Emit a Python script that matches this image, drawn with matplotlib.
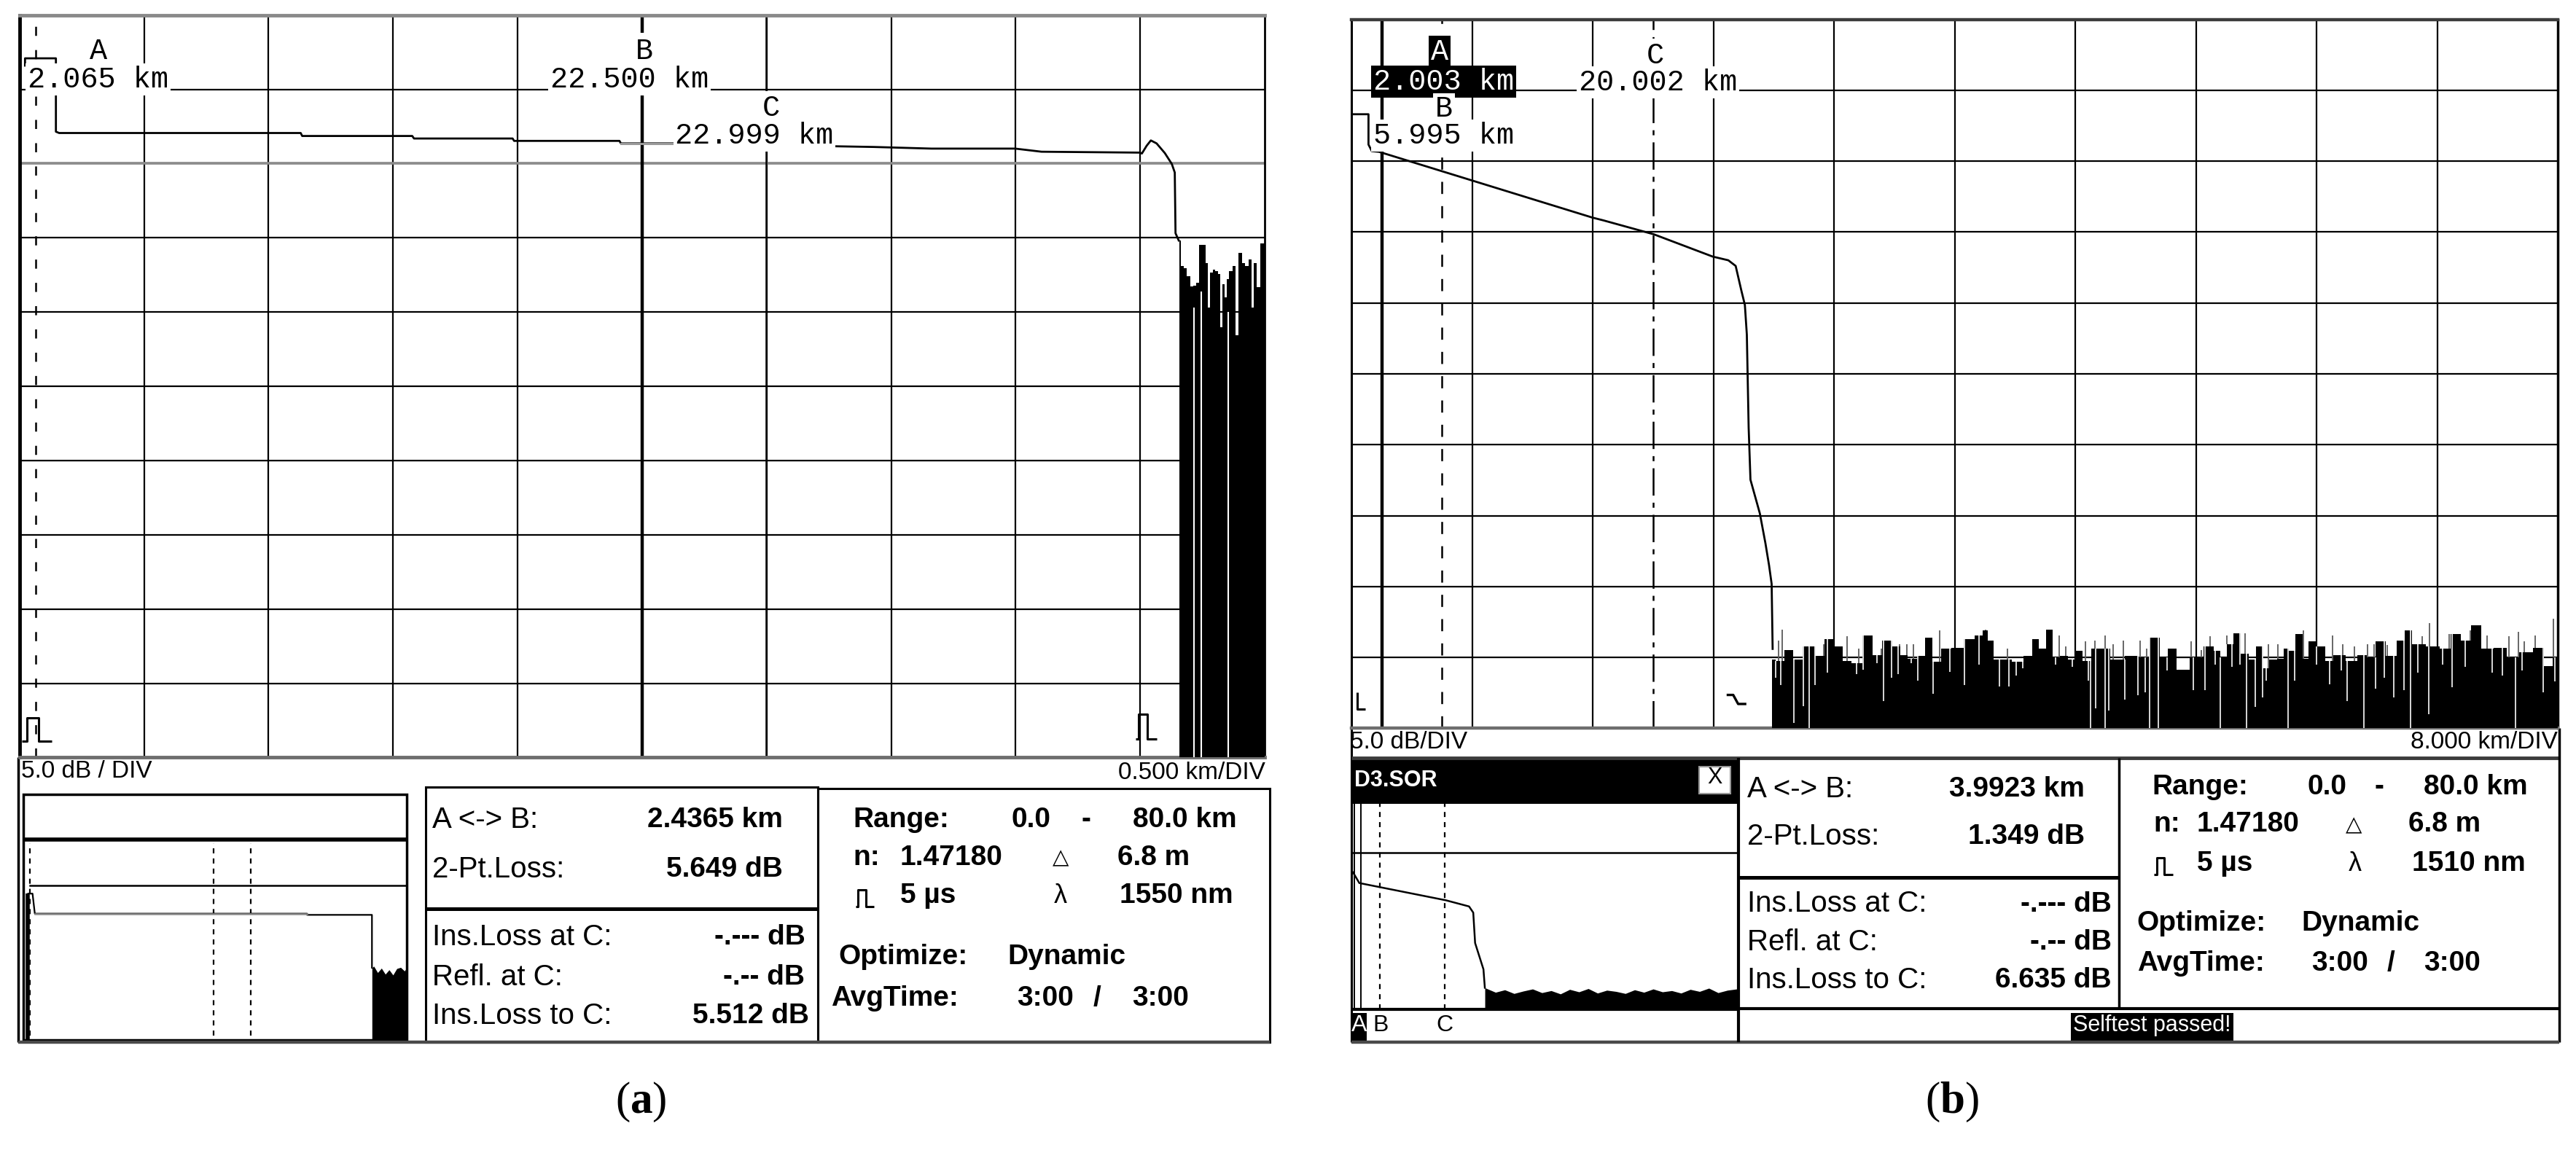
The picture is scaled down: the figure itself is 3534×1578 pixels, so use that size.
import matplotlib
matplotlib.use('Agg')
import matplotlib.pyplot as plt
import numpy as np
from matplotlib.patches import Rectangle

plt.rcParams['font.family'] = ['Liberation Sans', 'DejaVu Sans']
plt.rcParams['lines.scale_dashes'] = False
plt.rcParams['mathtext.fontset'] = 'custom'
plt.rcParams['mathtext.rm'] = 'Liberation Serif'
plt.rcParams['mathtext.bf'] = 'Liberation Serif:bold'

MONO = ['Liberation Mono', 'DejaVu Sans Mono']
SERIF = ['Liberation Serif', 'DejaVu Serif']

# ---------------- (a) 0.500 km/DIV, 5.0 dB/DIV ----------------
trace_a_km = [20.022, 20.022, 20.146, 20.146, 20.159, 20.190, 21.129, 21.135, 21.577, 21.584,
              21.980, 21.986, 22.409, 22.415, 22.633, 23.431, 23.662, 23.998, 24.104, 24.498,
              24.507, 24.526, 24.543, 24.566, 24.599, 24.627, 24.639, 24.642, 24.655]
trace_a_db = [46.60, 47.09, 47.09, 42.15, 42.06, 42.06, 42.06, 41.86, 41.86, 41.69,
              41.69, 41.53, 41.53, 41.36, 41.36, 41.12, 41.01, 41.01, 40.80, 40.74,
              40.68, 41.20, 41.56, 41.36, 40.71, 39.98, 39.40, 35.31, 34.82]
grey_a_km = [22.415, 22.633]
grey_a_db = [41.36, 41.36]
noise_a_km = [24.659, 24.669, 24.683, 24.693, 24.708, 24.718, 24.731, 24.744, 24.757, 24.767,
              24.777, 24.786, 24.797, 24.807, 24.817, 24.825, 24.834, 24.843, 24.853, 24.863,
              24.878, 24.888, 24.902, 24.915, 24.929, 24.942, 24.952, 24.962, 24.975, 24.990, 25.0]
noise_a_db = [34.80, 33.10, 32.98, 32.43, 31.73, 31.77, 31.99, 34.53, 34.53, 33.31,
              30.33, 32.65, 32.87, 32.76, 32.54, 28.99, 31.88, 30.99, 32.20, 32.76,
              33.09, 28.45, 33.98, 33.31, 33.09, 33.53, 30.33, 33.31, 31.66, 34.64, 34.64]
gap_a_km = [24.717, 24.746, 24.853]
gap_a_db = [0.0, 0.0, 0.0]
gap_a_top = [30.3, 31.4, 30.0]
cursor_a_km = [20.065, 22.5, 22.999]
cursor_a_text = ['2.065 km', '22.500 km', '22.999 km']

# overview window of (a)
mini_a_km = [0.30, 0.30, 0.60, 0.75, 18.5, 18.5, 22.73, 22.73]
mini_a_db = [0.0, 36.5, 36.5, 31.5, 31.5, 31.2, 31.2, 18.0]
mini_noise_a_km = [22.73, 22.85, 23.1, 23.35, 23.6, 23.85, 24.1, 24.35, 24.6, 24.85, 25.0]
mini_noise_a_db = [18.0, 18.4, 16.8, 17.9, 16.4, 17.5, 16.2, 17.8, 18.1, 17.2, 18.0]
mini_cursor_a_km = [0.45, 12.42, 14.85]
mini_level_a_db = 38.5

# ---------------- (b) 8.000 km/DIV, 5.0 dB/DIV ----------------
trace_b_km = [0.0, 1.111, 1.111, 1.329, 1.809, 15.963, 16.704, 20.038, 23.939, 24.974, 25.464,
              25.835, 26.074, 26.205, 26.325, 26.445, 27.066, 27.436, 27.676, 27.850, 27.916]
trace_b_db = [43.31, 43.31, 41.17, 40.71, 40.66, 36.02, 35.82, 34.84, 33.27, 33.01, 32.61,
              30.90, 29.86, 27.76, 21.20, 17.53, 15.16, 13.06, 11.51, 10.18, 5.60]
noise_b_km = [27.86, 28.38, 28.98, 29.58, 30.19, 30.53, 30.97, 31.74, 32.26, 32.87, 33.38, 34.33,
              34.76, 35.54, 36.15, 36.66, 37.10, 37.87, 38.22, 38.82, 39.34, 40.20, 40.98, 41.67,
              42.02, 42.36, 42.79, 43.40, 44.18, 44.95, 45.30, 45.82, 46.25, 46.68, 47.20, 47.80,
              48.23, 48.75, 49.36, 49.79, 50.82, 51.69, 52.55, 53.24, 53.93, 54.35, 55.04, 56.08,
              56.94, 57.37, 57.89, 58.23, 58.70, 59.18, 59.78, 60.21, 60.64, 61.07, 61.68, 61.97,
              62.37, 62.83, 63.31, 63.57, 64.35, 64.81, 65.38, 66.42, 66.94, 67.71, 68.14, 69.00,
              69.61, 70.04, 70.64, 71.85, 72.45, 73.31, 73.83, 74.60, 75.21, 76.24, 76.93, 77.88,
              78.83, 79.34, 79.95, 80.0]
noise_b_db = [4.84, 4.75, 5.52, 4.84, 5.78, 5.78, 5.09, 6.29, 5.78, 4.75, 4.58, 6.55,
              5.18, 6.21, 5.78, 5.18, 4.92, 5.09, 6.38, 4.67, 5.61, 5.69, 6.29, 6.55,
              6.89, 6.21, 4.84, 4.84, 4.67, 5.09, 6.29, 5.61, 6.98, 5.01, 5.09, 4.84,
              5.44, 4.75, 5.61, 5.61, 4.84, 5.09, 5.01, 6.38, 5.01, 5.61, 4.15, 5.01,
              5.78, 5.44, 5.01, 5.95, 6.72, 5.27, 4.84, 5.78, 4.24, 4.84, 4.92, 5.61,
              5.44, 6.64, 4.92, 6.12, 5.78, 4.75, 5.18, 4.75, 5.18, 5.01, 6.12, 5.09,
              6.21, 6.89, 5.95, 5.78, 5.61, 6.64, 6.21, 7.24, 5.61, 5.69, 5.01, 5.35,
              5.69, 4.41, 5.01, 5.01]
spike_b_km = [28.29, 28.55, 31.31, 32.87, 33.64, 35.11, 36.32, 36.80, 37.27, 38.99, 42.02, 43.48,
              46.94, 47.37, 48.66, 49.27, 49.96, 50.48, 51.17, 52.29, 52.72, 55.65, 56.33, 56.94,
              58.06, 59.26, 60.82, 61.42, 63.14, 65.04, 65.73, 66.50, 67.37, 67.80, 68.23, 68.66,
              70.99, 71.50, 72.80, 74.17, 75.29, 76.76, 77.36, 77.79, 78.48, 79.69]
spike_b_db = [6.21, 6.98, 5.95, 6.47, 5.61, 5.61, 5.95, 5.95, 5.95, 6.89, 6.98, 5.61,
              6.55, 5.78, 6.12, 6.21, 6.55, 5.95, 6.21, 6.21, 5.61, 6.12, 5.52, 6.47,
              6.55, 6.72, 5.95, 5.95, 6.89, 6.55, 5.95, 5.78, 5.95, 5.95, 6.12, 5.87,
              6.47, 7.41, 6.64, 6.89, 6.55, 6.47, 6.81, 6.12, 6.55, 7.75]
gap_b_km = [28.12, 28.46, 29.33, 29.93, 30.36, 30.71, 31.57, 33.47, 33.90, 34.85, 35.28, 35.80,
            36.23, 37.10, 37.53, 38.56, 39.69, 40.64, 41.59, 42.97, 43.57, 44.09, 44.52, 46.68,
            47.80, 48.84, 49.01, 49.36, 49.96, 50.22, 51.25, 52.12, 52.64, 52.90, 53.50, 54.10,
            55.82, 56.59, 57.28, 57.63, 58.40, 58.92, 59.35, 59.95, 60.39, 60.64, 62.11, 62.54,
            64.00, 64.87, 65.64, 66.04, 67.11, 67.88, 68.49, 69.09, 69.78, 70.21, 70.73, 71.42,
            72.36, 72.97, 73.83, 75.64, 76.33, 77.19, 77.62, 79.00, 79.78]
gap_b_db = [3.55, 3.04, 0.38, 1.58, 0.0, 3.04, 3.90, 3.81, 4.15, 4.58, 1.92, 3.55,
            3.81, 4.58, 3.38, 2.44, 3.98, 3.04, 4.50, 2.95, 2.95, 3.72, 4.24, 4.50,
            4.32, 3.38, 0.0, 1.41, 0.0, 1.24, 2.01, 2.35, 2.52, 0.0, 0.0, 4.07,
            2.70, 2.70, 4.50, 0.0, 4.32, 4.50, 0.0, 1.50, 2.18, 3.38, 0.0, 3.38,
            4.50, 3.12, 4.07, 1.92, 0.0, 2.78, 3.55, 2.18, 2.70, 0.0, 3.90, 0.98,
            4.50, 2.87, 4.32, 3.90, 3.72, 0.0, 4.07, 2.52, 3.29]
cursor_b_km = [2.003, 5.995, 20.002]
cursor_b_text = ['2.003 km', '5.995 km', '20.002 km']

# overview window of (b)
mini_b_km = [0.28, 1.63, 20.3, 25.3, 26.2, 26.6, 28.4, 28.7]
mini_b_db = [33.4, 30.8, 26.6, 25.1, 23.6, 16.2, 9.8, 5.3]
mini_noise_b_km = [28.7, 31, 33, 35, 37, 39, 41, 43, 45, 47, 49, 51, 53, 55,
                   57, 59, 61, 63, 65, 67, 69, 71, 73, 75, 77, 79, 81, 83]
mini_noise_b_db = [5.3, 4.2, 4.8, 3.9, 4.5, 5.0, 4.1, 4.6, 3.8, 4.9, 4.3, 5.1, 4.0, 4.7,
                   4.4, 3.9, 4.8, 4.2, 5.0, 4.3, 4.6, 4.0, 4.9, 4.4, 5.2, 4.1, 4.7, 5.0]
mini_level_b_db = 38.2

# ---------------- readout texts ----------------
info_labels = ['A <-> B:', '2-Pt.Loss:', 'Ins.Loss at C:', 'Refl. at C:', 'Ins.Loss to C:']
info_a_values = ['2.4365 km', '5.649 dB', '-.--- dB', '-.-- dB', '5.512 dB']
info_b_values = ['3.9923 km', '1.349 dB', '-.--- dB', '-.-- dB', '6.635 dB']
range_text = ['0.0', '-', '80.0 km']
index_text = '1.47180'
resolution_text = '6.8 m'
pulse_text = '5 µs'
wavelength_a = '1550 nm'
wavelength_b = '1510 nm'
optimize_text = 'Dynamic'
avg_text = ['3:00', '/', '3:00']

# ---------------- layout (reduced 1568 x 700 grid) ----------------
W, H = 1568.0, 700.0


def place(x0, y0, x1, y1):
    return [x0 / W, 1 - y1 / H, (x1 - x0) / W, (y1 - y0) / H]


fig = plt.figure(figsize=(35.34, 15.78), dpi=100)
bg = fig.add_axes([0, 0, 1, 1], zorder=0)
bg.set_xlim(0, W)
bg.set_ylim(H, 0)
bg.set_axis_off()
fg = fig.add_axes([0, 0, 1, 1], zorder=5)
fg.set_xlim(0, W)
fg.set_ylim(H, 0)
fg.set_axis_off()


def line(ax, xs, ys, lw=2.2, c='k', z=2):
    ax.plot(xs, ys, color=c, lw=lw, zorder=z, solid_capstyle='butt')


def box(ax, x0, y0, x1, y1, lw=2.2, ec='k', fc='none', z=1):
    ax.add_patch(Rectangle((x0, y0), x1 - x0, y1 - y0, lw=lw, ec=ec, fc=fc, zorder=z))


def txt(x, y, s, size, ha='left', weight='normal', color='k', family=None, bg_color=None, pad=1.5):
    kw = {}
    if family is not None:
        kw['family'] = family
    if bg_color is not None:
        kw['bbox'] = dict(fc=bg_color, ec='none', pad=pad)
    fg.text(x, y - 0.06 * size, s, fontsize=size, ha=ha, va='center', fontweight=weight,
            color=color, zorder=4, **kw)


def pulse(x0, y0, w, h, lw=2.2):
    px = [0, 0.15, 0.15, 0.55, 0.55, 1.0]
    py = [0, 0, 1, 1, 0, 0]
    line(fg, [x0 + w * p for p in px], [y0 - h * q for q in py], lw=lw, z=3)


def nearest(xq, xs, ys):
    xs = np.asarray(xs)
    ys = np.asarray(ys)
    idx = np.abs(np.subtract.outer(np.asarray(xq), xs)).argmin(axis=1)
    return ys[idx]


def scope(pos, x0, step):
    ax = fig.add_axes(pos, zorder=2)
    ax.set_facecolor('none')
    ax.set_xlim(x0, x0 + 10 * step)
    ax.set_ylim(0, 50)
    ax.set_xticks([])
    ax.set_yticks([])
    for i in range(1, 10):
        ax.axvline(x0 + i * step, color='k', lw=1.6, zorder=1)
        ax.axhline(5 * i, color='k', lw=1.6, zorder=1)
    return ax


def noise(ax, km, db, up_km=None, up_db=None, dn_km=None, dn_db=None, lw=1.3):
    ax.fill_between(km, 0, db, step='mid', color='k', lw=0, zorder=3)
    if up_km is not None:
        ax.vlines(up_km, nearest(up_km, km, db), up_db, color='#5a5a5a', lw=lw, zorder=3.5)
    if dn_km is not None:
        ax.vlines(dn_km, dn_db, nearest(dn_km, km, db), color='#e8e8e8', lw=lw, zorder=3.6)


# ======================= panel (a) =======================
ax_a = scope(place(11.9, 9.2, 769.8, 461.1), 20.0, 0.5)
ax_a.axhline(40, color='#8c8c8c', lw=2.6, zorder=1.1)
ax_a.spines['top'].set(color='#8a8a8a', lw=3.5)
ax_a.spines['left'].set(lw=3.5)
ax_a.spines['right'].set(lw=2.0)
ax_a.spines['bottom'].set(color='#6e6e6e', lw=3.5)
ax_a.axvline(cursor_a_km[0], color='k', lw=1.8, ls=(0, (9, 14)), zorder=2)
ax_a.axvline(cursor_a_km[1], color='k', lw=3.2, zorder=2)
ax_a.axvline(cursor_a_km[2], color='k', lw=1.8, zorder=2)
ax_a.plot(trace_a_km, trace_a_db, color='k', lw=2.0, zorder=4)
ax_a.plot(grey_a_km, grey_a_db, color='#9a9a9a', lw=2.2, zorder=4.1)
noise(ax_a, noise_a_km, noise_a_db)
ax_a.vlines(gap_a_km, gap_a_db, gap_a_top, color='white', lw=1.5, zorder=3.6)

txt(60, 33, 'A', 29, ha='center', family=MONO)
txt(17, 50, cursor_a_text[0], 29, family=MONO, bg_color='white', pad=2)
txt(392, 33, 'B', 29, ha='center', family=MONO, bg_color='white', pad=5)
txt(335, 50, cursor_a_text[1], 29, family=MONO, bg_color='white', pad=2)
txt(469.5, 67.5, 'C', 29, ha='center', family=MONO, bg_color='white', pad=3)
txt(411, 84.3, cursor_a_text[2], 29, family=MONO, bg_color='white', pad=2)
pulse(13.5, 451, 18, 14)
pulse(691.3, 449.7, 13, 15)

txt(13, 471, '5.0 dB / DIV', 24)
txt(770, 471.7, '0.500 km/DIV', 24, ha='right')

# bottom frames of (a)
line(bg, [11.3, 11.3], [461, 634.5], lw=2.5)
line(bg, [11.3, 773], [634.5, 634.5], lw=3.2, c='#4a4a4a')
box(bg, 14.2, 483.6, 247.6, 633, lw=2.5)
line(bg, [14.2, 247.6], [511, 511], lw=4.0)
box(bg, 258.9, 479.2, 498, 634.5, lw=2.2)
line(bg, [258.9, 498], [553.1, 553.1], lw=3.6)
box(bg, 498, 480, 773, 634.5, lw=2.2)

mini_a = fig.add_axes(place(14.2, 511, 247.6, 633), zorder=2)
mini_a.set_axis_off()
mini_a.set_xlim(0, 25)
mini_a.set_ylim(0, 50)
mini_a.axhline(mini_level_a_db, xmin=0.018, color='k', lw=1.8)
for c in mini_cursor_a_km:
    mini_a.axvline(c, ymin=0.02, ymax=0.98, color='k', lw=1.6, ls=(0, (5, 5)))
mini_a.plot(mini_a_km[:2], mini_a_db[:2], color='k', lw=4.0, solid_capstyle='butt')
mini_a.plot(mini_a_km, mini_a_db, color='k', lw=1.6)
mini_a.plot(mini_a_km[3:5], mini_a_db[3:5], color='#8c8c8c', lw=1.8)
mini_a.fill_between(mini_noise_a_km, 0, mini_noise_a_db, color='k', lw=0)

for i, lab in enumerate(info_labels):
    ya = [500.6, 531, 572, 596.5, 620][i]
    txt(263, ya, lab, 29)
    txt([476.5, 476.5, 490, 490, 492.4][i], ya, info_a_values[i], 28, ha='right', weight='bold')

txt(519.5, 500.6, 'Range:', 28, weight='bold')
txt(615.8, 500.6, range_text[0], 28, weight='bold')
txt(661, 500.6, range_text[1], 28, ha='center', weight='bold')
txt(689.3, 500.6, range_text[2], 28, weight='bold')
txt(519.5, 523.6, 'n:', 28, weight='bold')
txt(547.8, 523.6, index_text, 28, weight='bold')
txt(645.5, 523.6, '△', 21, ha='center', family=['DejaVu Sans'])
txt(680, 523.6, resolution_text, 28, weight='bold')
pulse(520.7, 552, 11.5, 10.5)
txt(547.8, 547, pulse_text, 28, weight='bold')
txt(645.5, 547, 'λ', 26, ha='center')
txt(681.4, 547, wavelength_a, 28, weight='bold')
txt(510.5, 584.2, 'Optimize:', 28, weight='bold')
txt(613.5, 584.2, optimize_text, 28, weight='bold')
txt(506, 609.3, 'AvgTime:', 28, weight='bold')
txt(619, 609.3, avg_text[0], 28, weight='bold')
txt(667.7, 609.3, avg_text[1], 28, ha='center', weight='bold')
txt(689.3, 609.3, avg_text[2], 28, weight='bold')

# ======================= panel (b) =======================
ax_b = scope(place(822.8, 11.8, 1557.0, 443.3), 0.0, 8.0)
ax_b.spines['top'].set(color='#3c3c3c', lw=3.2)
ax_b.spines['left'].set(lw=2.2)
ax_b.spines['right'].set(lw=2.5)
ax_b.spines['bottom'].set(color='#6e6e6e', lw=3.2)
ax_b.axvline(cursor_b_km[0], color='k', lw=3.2, zorder=2)
ax_b.axvline(cursor_b_km[1], color='k', lw=1.8, ls=(0, (12, 12)), zorder=2)
ax_b.axvline(cursor_b_km[2], color='k', lw=1.8, ls=(0, (27, 7, 5, 7)), zorder=2)
ax_b.plot(trace_b_km, trace_b_db, color='k', lw=2.0, zorder=4)
noise(ax_b, noise_b_km, noise_b_db, spike_b_km, spike_b_db, gap_b_km, gap_b_db)

txt(876.3, 33.3, 'A', 29, ha='center', family=MONO, color='white', bg_color='k', pad=2)
txt(836, 51.4, cursor_b_text[0], 29, family=MONO, color='white', bg_color='k', pad=2)
txt(878.8, 68, 'B', 29, ha='center', family=MONO, bg_color='white', pad=2)
txt(836, 84.3, cursor_b_text[1], 29, family=MONO, bg_color='white', pad=2)
txt(1007.5, 35.5, 'C', 29, ha='center', family=MONO, bg_color='white', pad=3)
txt(961, 51.8, cursor_b_text[2], 29, family=MONO, bg_color='white', pad=2)
line(fg, [826, 826, 831], [421.5, 431.5, 431.5], lw=2.2, z=3)
line(fg, [1051, 1055, 1058, 1063], [423, 423, 428.5, 428.5], lw=2.4, z=3)

txt(821.5, 453.3, '5.0 dB/DIV', 24)
txt(1556.7, 453.3, '8.000 km/DIV', 24, ha='right')

# bottom frames of (b)
line(bg, [822.8, 822.8], [443.3, 634.5], lw=2.2)
line(bg, [822.8, 1557.9], [461.5, 461.5], lw=3.5, c='#3c3c3c')
line(bg, [1557.9, 1557.9], [443.3, 634.5], lw=2.5)
line(bg, [822.8, 1557.9], [634.5, 634.5], lw=3.2, c='#4a4a4a')
box(bg, 822.8, 462.2, 1057.1, 489.5, lw=0, fc='k')
box(bg, 1034.2, 466.6, 1053.3, 482.9, lw=1.5, ec='#999999', fc='white', z=2)
line(bg, [1058.4, 1058.4], [461.5, 634.5], lw=3.0)
line(bg, [822.8, 1058.4], [614.5, 614.5], lw=3.0)
line(bg, [1058.4, 1290], [533.9, 533.9], lw=3.6)
line(bg, [1290, 1290], [461.5, 613.8], lw=2.5)
line(bg, [1058.4, 1557.9], [613.8, 613.8], lw=3.0)
box(bg, 1260.6, 616.7, 1359.6, 634.5, lw=0, fc='k')
box(bg, 823, 616.5, 832, 634.5, lw=0, fc='k')

txt(824.5, 476.2, 'D3.SOR', 22, weight='bold', color='white')
txt(1043.7, 474.7, 'X', 22, ha='center')
txt(827.4, 625.6, 'A', 23, ha='center', color='white')
txt(840.5, 625.6, 'B', 23, ha='center')
txt(879.3, 625.6, 'C', 23, ha='center')
txt(1310, 625.6, 'Selftest passed!', 22, ha='center', color='white')

mini_b = fig.add_axes(place(822.8, 489.5, 1057.1, 614.5), zorder=2)
mini_b.set_axis_off()
mini_b.set_xlim(0, 83)
mini_b.set_ylim(0, 50)
mini_b.axhline(mini_level_b_db, color='k', lw=1.8)
mini_b.axvline(0.5, color='k', lw=1.4)
mini_b.axvline(cursor_b_km[0], color='k', lw=1.4)
mini_b.axvline(cursor_b_km[1], color='k', lw=1.6, ls=(0, (5, 5)))
mini_b.axvline(cursor_b_km[2], color='k', lw=1.6, ls=(0, (5, 5)))
mini_b.plot(mini_b_km, mini_b_db, color='k', lw=1.8)
mini_b.fill_between(mini_noise_b_km, 0, mini_noise_b_db, color='k', lw=0)

for i, lab in enumerate(info_labels):
    yb = [482.2, 511, 552, 575.3, 598.2][i]
    txt(1063.5, yb, lab, 29)
    txt([1268.8, 1268.8, 1285.3, 1285.3, 1285.3][i], yb, info_b_values[i], 28, ha='right', weight='bold')

txt(1310.1, 480.7, 'Range:', 28, weight='bold')
txt(1404.5, 480.7, range_text[0], 28, weight='bold')
txt(1448.1, 480.7, range_text[1], 28, ha='center', weight='bold')
txt(1475.3, 480.7, range_text[2], 28, weight='bold')
txt(1311, 503.6, 'n:', 28, weight='bold')
txt(1337.2, 503.6, index_text, 28, weight='bold')
txt(1432.9, 503.6, '△', 21, ha='center', family=['DejaVu Sans'])
txt(1465.9, 503.6, resolution_text, 28, weight='bold')
pulse(1311, 532.5, 11.5, 10.5)
txt(1337.2, 527.3, pulse_text, 28, weight='bold')
txt(1433.4, 527.3, 'λ', 26, ha='center')
txt(1468.2, 527.3, wavelength_b, 28, weight='bold')
txt(1300.7, 563.5, 'Optimize:', 28, weight='bold')
txt(1400.9, 563.5, optimize_text, 28, weight='bold')
txt(1300.7, 587.9, 'AvgTime:', 28, weight='bold')
txt(1406.8, 587.9, avg_text[0], 28, weight='bold')
txt(1455.2, 587.9, avg_text[1], 28, ha='center', weight='bold')
txt(1475.3, 587.9, avg_text[2], 28, weight='bold')

# captions
fg.text(390, 671, r'($\mathbf{a}$)', fontsize=44, ha='center', va='center', family=SERIF)
fg.text(1188, 671, r'($\mathbf{b}$)', fontsize=44, ha='center', va='center', family=SERIF)

fig.savefig('out.png', dpi=100)
